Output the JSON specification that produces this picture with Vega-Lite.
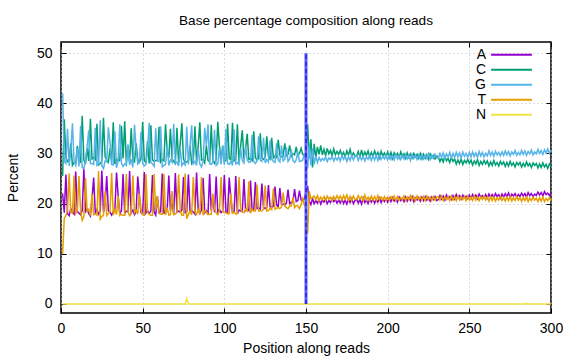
{
"$schema": "https://vega.github.io/schema/vega-lite/v6.json",
"width": 490, "height": 271,
"autosize": {"type": "none"},
"padding": {"left": 61, "top": 42, "right": 25, "bottom": 47},
"title": {"text": "Base percentage composition along reads", "fontSize": 13.6, "font": "Liberation Sans", "fontWeight": "normal", "offset": 14, "anchor": "middle", "color": "#000"},
"config": {"view": {"stroke": "#000", "strokeWidth": 1.5}, "font": "Liberation Sans"},
"resolve": {"axis": {"x": "independent", "y": "independent"}},
"datasets": {"reads": [
{"p":1,"A":22,"C":25.5,"G":42,"T":10,"N":0},
{"p":2,"A":18.2,"C":36.8,"G":28.4,"T":17.1,"N":0},
{"p":3,"A":25.8,"C":29.1,"G":28.0,"T":17.6,"N":0},
{"p":4,"A":18.0,"C":28.4,"G":34.9,"T":18.7,"N":0},
{"p":5,"A":17.6,"C":28.9,"G":27.5,"T":26.0,"N":0},
{"p":6,"A":19.0,"C":32.0,"G":30.5,"T":18.3,"N":0},
{"p":7,"A":18.3,"C":27.6,"G":36.0,"T":18.1,"N":0},
{"p":8,"A":17.9,"C":28.2,"G":28.3,"T":25.6,"N":0},
{"p":9,"A":26.4,"C":28.0,"G":27.6,"T":18.0,"N":0},
{"p":10,"A":18.5,"C":31.5,"G":31.0,"T":18.6,"N":0},
{"p":11,"A":18.1,"C":29.0,"G":27.4,"T":25.5,"N":0},
{"p":12,"A":17.8,"C":28.1,"G":35.5,"T":18.6,"N":0},
{"p":13,"A":18.6,"C":37.5,"G":27.2,"T":16.7,"N":0},
{"p":14,"A":26.9,"C":28.7,"G":27.0,"T":17.4,"N":0},
{"p":15,"A":18.4,"C":27.9,"G":28.6,"T":25.1,"N":0},
{"p":16,"A":18.9,"C":31.0,"G":31.4,"T":18.5,"N":0},
{"p":17,"A":18.0,"C":28.5,"G":34.6,"T":18.9,"N":0},
{"p":18,"A":17.5,"C":36.9,"G":28.0,"T":17.6,"N":0},
{"p":19,"A":21.0,"C":28.9,"G":28.0,"T":22.0,"N":0},
{"p":20,"A":25.2,"C":29.2,"G":27.8,"T":17.8,"N":0},
{"p":21,"A":18.2,"C":28.8,"G":35.1,"T":17.9,"N":0},
{"p":22,"A":18.8,"C":35.9,"G":27.6,"T":17.7,"N":0},
{"p":23,"A":17.9,"C":27.7,"G":27.9,"T":26.5,"N":0},
{"p":24,"A":18.5,"C":28.0,"G":36.6,"T":16.9,"N":0},
{"p":25,"A":26.6,"C":28.4,"G":27.5,"T":17.5,"N":0},
{"p":26,"A":18.3,"C":37.1,"G":27.0,"T":17.6,"N":0},
{"p":27,"A":20.0,"C":29.4,"G":28.5,"T":22.5,"N":0},
{"p":28,"A":25.5,"C":28.6,"G":28.3,"T":17.6,"N":0},
{"p":29,"A":18.6,"C":28.2,"G":35.2,"T":18.0,"N":0},
{"p":30,"A":18.3,"C":31.0,"G":32.2,"T":18.4,"N":0},
{"p":31,"A":17.7,"C":28.4,"G":27.8,"T":26.1,"N":0},
{"p":32,"A":18.4,"C":36.2,"G":27.7,"T":17.7,"N":0},
{"p":33,"A":18.9,"C":27.9,"G":34.4,"T":18.8,"N":0},
{"p":34,"A":26.2,"C":28.9,"G":27.1,"T":17.8,"N":0},
{"p":35,"A":21.5,"C":28.5,"G":28.6,"T":21.5,"N":0},
{"p":36,"A":17.9,"C":28.6,"G":35.8,"T":17.7,"N":0},
{"p":37,"A":18.6,"C":35.5,"G":28.1,"T":17.8,"N":0},
{"p":38,"A":25.9,"C":29.0,"G":27.4,"T":17.7,"N":0},
{"p":39,"A":18.0,"C":36.4,"G":27.9,"T":17.7,"N":0},
{"p":40,"A":18.5,"C":28.0,"G":27.6,"T":25.9,"N":0},
{"p":41,"A":18.4,"C":31.5,"G":31.8,"T":18.3,"N":0},
{"p":42,"A":26.5,"C":28.2,"G":27.7,"T":17.6,"N":0},
{"p":43,"A":18.1,"C":35.0,"G":28.8,"T":18.1,"N":0},
{"p":44,"A":18.7,"C":28.5,"G":27.2,"T":25.6,"N":0},
{"p":45,"A":17.8,"C":28.3,"G":35.7,"T":18.2,"N":0},
{"p":46,"A":18.4,"C":32.0,"G":30.8,"T":18.7,"N":0},
{"p":47,"A":25.4,"C":28.8,"G":27.9,"T":17.9,"N":0},
{"p":48,"A":21.5,"C":28.2,"G":28.4,"T":22.0,"N":0},
{"p":49,"A":18.2,"C":28.9,"G":34.3,"T":18.6,"N":0},
{"p":50,"A":17.9,"C":36.3,"G":28.0,"T":17.8,"N":0},
{"p":51,"A":26.3,"C":28.5,"G":27.5,"T":17.7,"N":0},
{"p":52,"A":18.1,"C":28.2,"G":27.8,"T":25.9,"N":0},
{"p":53,"A":18.6,"C":32.5,"G":30.6,"T":18.3,"N":0},
{"p":54,"A":18.0,"C":28.0,"G":36.1,"T":17.9,"N":0},
{"p":55,"A":18.5,"C":35.6,"G":28.2,"T":17.7,"N":0},
{"p":56,"A":25.7,"C":28.7,"G":27.9,"T":17.7,"N":0},
{"p":57,"A":18.3,"C":28.4,"G":27.4,"T":25.9,"N":0},
{"p":58,"A":17.7,"C":28.6,"G":35.0,"T":18.7,"N":0},
{"p":59,"A":21.5,"C":28.6,"G":28.5,"T":21.5,"N":0},
{"p":60,"A":18.2,"C":35.3,"G":28.4,"T":18.1,"N":0},
{"p":61,"A":18.4,"C":28.3,"G":35.4,"T":17.9,"N":0},
{"p":62,"A":26.0,"C":28.8,"G":27.3,"T":17.9,"N":0},
{"p":63,"A":18.0,"C":28.5,"G":27.6,"T":25.9,"N":0},
{"p":64,"A":18.7,"C":35.8,"G":27.8,"T":17.7,"N":0},
{"p":65,"A":18.6,"C":30.5,"G":31.6,"T":19.2,"N":0},
{"p":66,"A":25.6,"C":29.1,"G":27.6,"T":17.7,"N":0},
{"p":67,"A":18.6,"C":34.9,"G":28.7,"T":17.8,"N":0},
{"p":68,"A":20.5,"C":28.9,"G":28.2,"T":22.5,"N":0},
{"p":69,"A":17.9,"C":28.4,"G":35.9,"T":17.8,"N":0},
{"p":70,"A":26.1,"C":28.0,"G":28.0,"T":17.9,"N":0},
{"p":71,"A":18.3,"C":35.1,"G":28.3,"T":18.3,"N":0},
{"p":72,"A":18.5,"C":28.2,"G":27.5,"T":25.8,"N":0},
{"p":73,"A":18.3,"C":32.0,"G":31.0,"T":18.7,"N":0},
{"p":74,"A":18.7,"C":36.0,"G":27.6,"T":17.7,"N":0},
{"p":75,"A":25.3,"C":28.9,"G":28.1,"T":17.7,"N":0},
{"p":76,"A":18.2,"C":28.1,"G":27.7,"T":26.0,"N":0},
{"p":77,"A":18.4,"C":28.3,"G":35.3,"T":17.0,"N":1.1},
{"p":78,"A":25.8,"C":28.6,"G":27.8,"T":17.8,"N":0},
{"p":79,"A":18.4,"C":31.5,"G":31.6,"T":18.5,"N":0},
{"p":80,"A":18.6,"C":28.0,"G":35.6,"T":17.8,"N":0},
{"p":81,"A":18.3,"C":28.5,"G":27.9,"T":25.3,"N":0},
{"p":82,"A":17.9,"C":35.4,"G":28.4,"T":18.3,"N":0},
{"p":83,"A":26.2,"C":28.4,"G":27.6,"T":17.8,"N":0},
{"p":84,"A":18.7,"C":31.5,"G":31.0,"T":18.8,"N":0},
{"p":85,"A":18.0,"C":36.2,"G":27.9,"T":17.9,"N":0},
{"p":86,"A":18.7,"C":28.7,"G":27.3,"T":25.3,"N":0},
{"p":87,"A":25.1,"C":28.8,"G":28.4,"T":17.7,"N":0},
{"p":88,"A":18.2,"C":28.1,"G":35.1,"T":18.6,"N":0},
{"p":89,"A":18.6,"C":31.5,"G":31.5,"T":18.4,"N":0},
{"p":90,"A":17.8,"C":28.6,"G":35.8,"T":17.8,"N":0},
{"p":91,"A":25.9,"C":28.3,"G":27.9,"T":17.9,"N":0},
{"p":92,"A":18.6,"C":35.7,"G":27.8,"T":17.9,"N":0},
{"p":93,"A":21.5,"C":28.5,"G":28.3,"T":22.0,"N":0},
{"p":94,"A":18.3,"C":28.0,"G":34.7,"T":19.0,"N":0},
{"p":95,"A":25.4,"C":28.9,"G":27.6,"T":18.1,"N":0},
{"p":96,"A":18.0,"C":36.3,"G":27.9,"T":17.8,"N":0},
{"p":97,"A":18.8,"C":31.5,"G":31.0,"T":18.7,"N":0},
{"p":98,"A":18.2,"C":28.7,"G":27.8,"T":25.3,"N":0},
{"p":99,"A":18.5,"C":31.5,"G":31.6,"T":18.4,"N":0},
{"p":100,"A":25.7,"C":28.4,"G":27.7,"T":18.2,"N":0},
{"p":101,"A":18.3,"C":28.6,"G":34.9,"T":18.2,"N":0},
{"p":102,"A":18.1,"C":35.9,"G":28.0,"T":18.0,"N":0},
{"p":103,"A":25.2,"C":29.0,"G":27.8,"T":18.0,"N":0},
{"p":104,"A":21.0,"C":28.7,"G":28.4,"T":22.0,"N":0},
{"p":105,"A":18.2,"C":36.1,"G":27.6,"T":18.1,"N":0},
{"p":106,"A":18.4,"C":28.5,"G":34.8,"T":18.3,"N":0},
{"p":107,"A":25.5,"C":28.7,"G":27.9,"T":17.9,"N":0},
{"p":108,"A":18.0,"C":35.8,"G":28.2,"T":18.0,"N":0},
{"p":109,"A":18.7,"C":28.2,"G":27.8,"T":25.3,"N":0},
{"p":110,"A":18.5,"C":31.5,"G":31.0,"T":19.0,"N":0},
{"p":111,"A":18.5,"C":34.6,"G":28.6,"T":18.3,"N":0},
{"p":112,"A":24.9,"C":28.8,"G":28.1,"T":18.2,"N":0},
{"p":113,"A":18.6,"C":31.0,"G":31.5,"T":18.9,"N":0},
{"p":114,"A":18.9,"C":33.9,"G":28.7,"T":18.5,"N":0},
{"p":115,"A":18.6,"C":28.8,"G":28.2,"T":24.4,"N":0},
{"p":116,"A":24.6,"C":29.0,"G":28.3,"T":18.1,"N":0},
{"p":117,"A":18.8,"C":28.6,"G":33.7,"T":18.9,"N":0},
{"p":118,"A":18.7,"C":34.4,"G":28.4,"T":18.5,"N":0},
{"p":119,"A":24.3,"C":29.2,"G":28.0,"T":18.5,"N":0},
{"p":120,"A":19.0,"C":28.7,"G":28.5,"T":23.8,"N":0},
{"p":121,"A":19.1,"C":29.0,"G":33.4,"T":18.5,"N":0},
{"p":122,"A":18.9,"C":34.0,"G":28.6,"T":18.5,"N":0},
{"p":123,"A":24.0,"C":29.1,"G":28.4,"T":18.5,"N":0},
{"p":124,"A":19.2,"C":28.8,"G":33.1,"T":18.9,"N":0},
{"p":125,"A":19.0,"C":29.3,"G":28.1,"T":23.6,"N":0},
{"p":126,"A":19.3,"C":33.4,"G":28.8,"T":18.5,"N":0},
{"p":127,"A":23.7,"C":29.4,"G":28.3,"T":18.6,"N":0},
{"p":128,"A":19.4,"C":28.9,"G":32.6,"T":19.1,"N":0},
{"p":129,"A":19.2,"C":33.1,"G":28.9,"T":18.8,"N":0},
{"p":130,"A":19.5,"C":29.1,"G":28.4,"T":23.0,"N":0},
{"p":131,"A":23.4,"C":29.5,"G":28.2,"T":18.9,"N":0},
{"p":132,"A":19.7,"C":29.2,"G":32.0,"T":19.1,"N":0},
{"p":133,"A":19.4,"C":32.7,"G":28.7,"T":19.2,"N":0},
{"p":134,"A":23.1,"C":29.6,"G":28.3,"T":19.0,"N":0},
{"p":135,"A":19.8,"C":29.3,"G":31.6,"T":19.3,"N":0},
{"p":136,"A":19.9,"C":29.4,"G":28.5,"T":22.2,"N":0},
{"p":137,"A":19.7,"C":32.0,"G":28.8,"T":19.5,"N":0},
{"p":138,"A":20.1,"C":29.5,"G":31.2,"T":19.2,"N":0},
{"p":139,"A":22.8,"C":29.8,"G":28.4,"T":19.0,"N":0},
{"p":140,"A":20.0,"C":31.6,"G":28.9,"T":19.5,"N":0},
{"p":141,"A":20.3,"C":29.4,"G":30.8,"T":19.5,"N":0},
{"p":142,"A":20.2,"C":29.9,"G":28.6,"T":21.3,"N":0},
{"p":143,"A":22.9,"C":29.7,"G":28.2,"T":19.2,"N":0},
{"p":144,"A":20.4,"C":31.3,"G":28.7,"T":19.6,"N":0},
{"p":145,"A":20.6,"C":29.6,"G":30.3,"T":19.5,"N":0},
{"p":146,"A":22.6,"C":30.0,"G":28.4,"T":19.0,"N":0},
{"p":147,"A":20.7,"C":31.0,"G":28.5,"T":19.8,"N":0},
{"p":148,"A":20.5,"C":29.8,"G":28.7,"T":21.0,"N":0},
{"p":149,"A":21.0,"C":29.5,"G":29.8,"T":19.7,"N":0},
{"p":150,"A":22.3,"C":30.2,"G":28.3,"T":19.2,"N":0},
{"p":151,"A":23.5,"C":35.8,"G":27.0,"T":14.0,"N":0},
{"p":152,"A":20.5,"C":29.0,"G":31.5,"T":22.5,"N":0},
{"p":153,"A":19.8,"C":32.8,"G":27.6,"T":21.0,"N":0},
{"p":154,"A":21.0,"C":27.2,"G":31.0,"T":21.2,"N":0},
{"p":155,"A":20.0,"C":31.9,"G":27.8,"T":21.5,"N":0},
{"p":156,"A":20.6,"C":29.2,"G":29.5,"T":20.8,"N":0},
{"p":157,"A":20.1,"C":31.3,"G":28.2,"T":21.6,"N":0},
{"p":158,"A":20.8,"C":29.8,"G":29.2,"T":20.5,"N":0},
{"p":159,"A":19.9,"C":31.6,"G":28.5,"T":21.3,"N":0},
{"p":160,"A":20.7,"C":29.7,"G":29.0,"T":20.8,"N":0},
{"p":161,"A":20.3,"C":30.8,"G":28.6,"T":21.4,"N":0},
{"p":162,"A":20.9,"C":29.5,"G":29.3,"T":20.6,"N":0},
{"p":163,"A":20.0,"C":31.0,"G":28.4,"T":21.5,"N":0},
{"p":164,"A":20.6,"C":29.9,"G":29.1,"T":20.9,"N":0},
{"p":165,"A":20.2,"C":30.6,"G":28.8,"T":21.3,"N":0},
{"p":166,"A":21.0,"C":29.6,"G":29.4,"T":20.6,"N":0},
{"p":167,"A":20.4,"C":30.9,"G":28.5,"T":21.4,"N":0},
{"p":168,"A":20.8,"C":29.7,"G":29.2,"T":20.8,"N":0},
{"p":169,"A":20.1,"C":30.4,"G":28.7,"T":21.6,"N":0},
{"p":170,"A":20.7,"C":29.8,"G":29.3,"T":20.9,"N":0},
{"p":171,"A":20.1,"C":30.6,"G":28.5,"T":21.5,"N":0},
{"p":172,"A":20.9,"C":29.6,"G":29.6,"T":20.7,"N":0},
{"p":173,"A":20.0,"C":30.2,"G":28.8,"T":21.6,"N":0},
{"p":174,"A":20.7,"C":29.3,"G":29.5,"T":20.9,"N":0},
{"p":175,"A":19.9,"C":30.5,"G":28.4,"T":21.7,"N":0},
{"p":176,"A":20.8,"C":29.7,"G":29.3,"T":20.6,"N":0},
{"p":177,"A":20.2,"C":30.8,"G":28.6,"T":21.4,"N":0},
{"p":178,"A":21.0,"C":29.5,"G":29.7,"T":20.6,"N":0},
{"p":179,"A":20.0,"C":30.1,"G":28.7,"T":21.5,"N":0},
{"p":180,"A":20.6,"C":29.4,"G":29.4,"T":20.8,"N":0},
{"p":181,"A":20.9,"C":29.5,"G":29.6,"T":20.8,"N":0},
{"p":182,"A":20.1,"C":30.4,"G":28.6,"T":21.6,"N":0},
{"p":183,"A":20.8,"C":29.2,"G":29.5,"T":20.9,"N":0},
{"p":184,"A":19.9,"C":30.7,"G":28.7,"T":21.4,"N":0},
{"p":185,"A":21.1,"C":29.4,"G":29.4,"T":20.6,"N":0},
{"p":186,"A":20.2,"C":30.3,"G":28.5,"T":21.7,"N":0},
{"p":187,"A":20.7,"C":29.6,"G":29.3,"T":20.7,"N":0},
{"p":188,"A":20.0,"C":30.5,"G":28.8,"T":21.3,"N":0},
{"p":189,"A":20.9,"C":29.3,"G":29.7,"T":20.6,"N":0},
{"p":190,"A":20.3,"C":30.2,"G":28.6,"T":21.5,"N":0},
{"p":191,"A":20.9,"C":29.4,"G":29.5,"T":20.7,"N":0},
{"p":192,"A":20.1,"C":30.5,"G":28.7,"T":21.4,"N":0},
{"p":193,"A":20.8,"C":29.6,"G":29.6,"T":20.6,"N":0},
{"p":194,"A":20.3,"C":30.2,"G":28.6,"T":21.6,"N":0},
{"p":195,"A":21.1,"C":29.1,"G":29.8,"T":20.8,"N":0},
{"p":196,"A":20.2,"C":30.4,"G":28.8,"T":21.3,"N":0},
{"p":197,"A":20.9,"C":29.5,"G":29.4,"T":20.7,"N":0},
{"p":198,"A":20.4,"C":30.1,"G":28.9,"T":21.4,"N":0},
{"p":199,"A":21.0,"C":29.3,"G":29.6,"T":20.6,"N":0},
{"p":200,"A":20.3,"C":30.3,"G":28.7,"T":21.3,"N":0},
{"p":201,"A":21.1,"C":29.2,"G":29.7,"T":20.7,"N":0},
{"p":202,"A":20.4,"C":30.2,"G":28.8,"T":21.4,"N":0},
{"p":203,"A":21.2,"C":29.0,"G":29.6,"T":20.8,"N":0},
{"p":204,"A":20.5,"C":30.1,"G":28.7,"T":21.5,"N":0},
{"p":205,"A":20.9,"C":29.4,"G":29.8,"T":20.6,"N":0},
{"p":206,"A":20.3,"C":30.0,"G":28.9,"T":21.4,"N":0},
{"p":207,"A":21.3,"C":29.1,"G":29.5,"T":20.7,"N":0},
{"p":208,"A":20.6,"C":30.3,"G":28.8,"T":21.2,"N":0},
{"p":209,"A":21.0,"C":29.3,"G":29.7,"T":20.8,"N":0},
{"p":210,"A":20.4,"C":29.9,"G":28.9,"T":21.5,"N":0},
{"p":211,"A":21.3,"C":29.0,"G":29.8,"T":20.6,"N":0},
{"p":212,"A":20.5,"C":30.1,"G":28.9,"T":21.3,"N":0},
{"p":213,"A":21.2,"C":29.2,"G":29.5,"T":20.8,"N":0},
{"p":214,"A":20.6,"C":29.9,"G":28.6,"T":21.6,"N":0},
{"p":215,"A":21.4,"C":29.1,"G":29.8,"T":20.7,"N":0},
{"p":216,"A":20.4,"C":30.0,"G":29.0,"T":21.4,"N":0},
{"p":217,"A":21.1,"C":29.3,"G":29.6,"T":20.6,"N":0},
{"p":218,"A":20.7,"C":29.8,"G":28.8,"T":21.5,"N":0},
{"p":219,"A":21.2,"C":29.0,"G":29.7,"T":20.8,"N":0},
{"p":220,"A":20.5,"C":30.0,"G":28.9,"T":21.3,"N":0},
{"p":221,"A":21.3,"C":28.9,"G":29.8,"T":20.7,"N":0},
{"p":222,"A":20.6,"C":29.8,"G":28.9,"T":21.4,"N":0},
{"p":223,"A":21.4,"C":29.0,"G":29.6,"T":20.6,"N":0},
{"p":224,"A":20.7,"C":29.7,"G":29.0,"T":21.5,"N":0},
{"p":225,"A":21.2,"C":28.8,"G":29.9,"T":20.8,"N":0},
{"p":226,"A":20.5,"C":29.9,"G":28.8,"T":21.3,"N":0},
{"p":227,"A":21.3,"C":29.1,"G":29.7,"T":20.6,"N":0},
{"p":228,"A":20.8,"C":29.6,"G":29.0,"T":21.4,"N":0},
{"p":229,"A":21.4,"C":28.9,"G":29.8,"T":20.7,"N":0},
{"p":230,"A":20.6,"C":29.5,"G":29.1,"T":21.3,"N":0},
{"p":231,"A":20.8,"C":29.3,"G":29.1,"T":21.4,"N":0},
{"p":232,"A":21.6,"C":28.4,"G":30.0,"T":20.7,"N":0},
{"p":233,"A":20.9,"C":29.1,"G":29.2,"T":21.5,"N":0},
{"p":234,"A":21.5,"C":28.3,"G":30.1,"T":20.6,"N":0},
{"p":235,"A":20.7,"C":29.4,"G":29.0,"T":21.3,"N":0},
{"p":236,"A":21.7,"C":28.5,"G":29.9,"T":20.8,"N":0},
{"p":237,"A":21.0,"C":29.0,"G":29.3,"T":21.4,"N":0},
{"p":238,"A":21.4,"C":28.2,"G":30.2,"T":20.6,"N":0},
{"p":239,"A":20.8,"C":29.2,"G":29.1,"T":21.5,"N":0},
{"p":240,"A":21.6,"C":28.4,"G":30.0,"T":20.7,"N":0},
{"p":241,"A":20.9,"C":28.9,"G":29.2,"T":21.4,"N":0},
{"p":242,"A":21.8,"C":27.9,"G":30.2,"T":20.6,"N":0},
{"p":243,"A":21.1,"C":28.7,"G":29.3,"T":21.5,"N":0},
{"p":244,"A":21.6,"C":28.0,"G":30.1,"T":20.7,"N":0},
{"p":245,"A":20.9,"C":28.9,"G":29.1,"T":21.3,"N":0},
{"p":246,"A":21.7,"C":27.8,"G":30.3,"T":20.8,"N":0},
{"p":247,"A":21.2,"C":28.6,"G":29.4,"T":21.4,"N":0},
{"p":248,"A":21.5,"C":28.1,"G":30.0,"T":20.6,"N":0},
{"p":249,"A":21.0,"C":28.8,"G":29.2,"T":21.5,"N":0},
{"p":250,"A":21.7,"C":28.0,"G":30.2,"T":20.7,"N":0},
{"p":251,"A":21.0,"C":28.7,"G":29.3,"T":21.3,"N":0},
{"p":252,"A":21.8,"C":27.7,"G":30.3,"T":20.6,"N":0},
{"p":253,"A":21.2,"C":28.5,"G":29.4,"T":21.5,"N":0},
{"p":254,"A":21.7,"C":27.9,"G":30.1,"T":20.7,"N":0},
{"p":255,"A":21.0,"C":28.8,"G":29.2,"T":21.4,"N":0},
{"p":256,"A":21.9,"C":27.6,"G":30.4,"T":20.6,"N":0},
{"p":257,"A":21.3,"C":28.4,"G":29.5,"T":21.3,"N":0},
{"p":258,"A":21.6,"C":27.8,"G":30.2,"T":20.8,"N":0},
{"p":259,"A":21.1,"C":28.6,"G":29.3,"T":21.5,"N":0},
{"p":260,"A":21.8,"C":27.9,"G":30.0,"T":20.7,"N":0},
{"p":261,"A":21.1,"C":28.5,"G":29.5,"T":21.3,"N":0},
{"p":262,"A":21.9,"C":27.5,"G":30.5,"T":20.5,"N":0},
{"p":263,"A":21.3,"C":28.3,"G":29.6,"T":21.4,"N":0},
{"p":264,"A":21.8,"C":27.6,"G":30.3,"T":20.6,"N":0},
{"p":265,"A":21.2,"C":28.6,"G":29.4,"T":21.3,"N":0},
{"p":266,"A":22.0,"C":27.7,"G":30.4,"T":20.5,"N":0},
{"p":267,"A":21.4,"C":28.2,"G":29.7,"T":21.2,"N":0},
{"p":268,"A":21.8,"C":27.5,"G":30.2,"T":20.7,"N":0},
{"p":269,"A":21.1,"C":28.4,"G":29.5,"T":21.4,"N":0},
{"p":270,"A":21.9,"C":27.8,"G":30.3,"T":20.6,"N":0},
{"p":271,"A":21.3,"C":28.3,"G":29.6,"T":21.2,"N":0},
{"p":272,"A":22.0,"C":27.4,"G":30.5,"T":20.5,"N":0},
{"p":273,"A":21.4,"C":28.2,"G":29.7,"T":21.3,"N":0},
{"p":274,"A":22.1,"C":27.5,"G":30.4,"T":20.6,"N":0},
{"p":275,"A":21.2,"C":28.4,"G":29.5,"T":21.4,"N":0},
{"p":276,"A":21.9,"C":27.6,"G":30.3,"T":20.5,"N":0},
{"p":277,"A":21.5,"C":28.1,"G":29.8,"T":21.2,"N":0},
{"p":278,"A":22.0,"C":27.3,"G":30.6,"T":20.6,"N":0},
{"p":279,"A":21.3,"C":28.2,"G":29.6,"T":21.4,"N":0},
{"p":280,"A":21.8,"C":27.7,"G":30.2,"T":20.7,"N":0},
{"p":281,"A":21.4,"C":28.2,"G":29.7,"T":21.2,"N":0},
{"p":282,"A":22.1,"C":27.3,"G":30.6,"T":20.4,"N":0},
{"p":283,"A":21.5,"C":28.0,"G":29.8,"T":21.2,"N":0},
{"p":284,"A":22.0,"C":27.4,"G":30.5,"T":20.6,"N":0},
{"p":285,"A":21.3,"C":28.3,"G":29.6,"T":21.3,"N":0.15},
{"p":286,"A":22.2,"C":27.5,"G":30.4,"T":20.4,"N":0},
{"p":287,"A":21.6,"C":28.0,"G":29.9,"T":21.1,"N":0},
{"p":288,"A":22.0,"C":27.2,"G":30.7,"T":20.6,"N":0},
{"p":289,"A":21.4,"C":28.1,"G":29.7,"T":21.3,"N":0},
{"p":290,"A":21.9,"C":27.6,"G":30.3,"T":20.7,"N":0},
{"p":291,"A":21.6,"C":28.0,"G":29.9,"T":21.1,"N":0},
{"p":292,"A":22.3,"C":27.1,"G":30.8,"T":20.4,"N":0},
{"p":293,"A":21.7,"C":27.9,"G":30.0,"T":21.2,"N":0},
{"p":294,"A":22.2,"C":27.2,"G":30.6,"T":20.5,"N":0},
{"p":295,"A":21.5,"C":28.1,"G":29.8,"T":21.3,"N":0},
{"p":296,"A":22.4,"C":27.3,"G":30.7,"T":20.4,"N":0},
{"p":297,"A":21.8,"C":27.8,"G":30.1,"T":21.0,"N":0},
{"p":298,"A":22.1,"C":27.0,"G":30.9,"T":20.6,"N":0},
{"p":299,"A":21.6,"C":27.9,"G":30.0,"T":21.2,"N":0},
{"p":300,"A":22.2,"C":27.4,"G":30.6,"T":20.5,"N":0}
]},
"layer": [
{
 "data": {"name": "reads"},
 "transform": [{"fold": ["A", "C", "G", "T", "N"], "as": ["base", "pct"]}],
 "mark": {"type": "line", "strokeWidth": 1.5, "interpolate": "linear"},
 "encoding": {
  "x": {"field": "p", "type": "quantitative", "scale": {"domain": [0, 300], "nice": false, "zero": false},
   "axis": {"orient": "bottom", "values": [0, 50, 100, 150, 200, 250, 300], "title": "Position along reads", "grid": true, "gridDash": [1, 3], "gridColor": "#b8b8b8", "gridWidth": 1, "domain": false, "tickSize": -5, "tickColor": "#000", "labelPadding": 13, "labelFlush": false, "labelFontSize": 14, "labelColor": "#000", "labelFont": "Liberation Sans", "titleFontSize": 14, "titleFontWeight": "normal", "titleColor": "#000", "titleFont": "Liberation Sans", "titlePadding": 6}},
  "y": {"field": "pct", "type": "quantitative", "scale": {"domain": [-1.8, 52.2], "nice": false, "zero": false},
   "axis": {"orient": "left", "values": [0, 10, 20, 30, 40, 50], "title": "Percent", "grid": true, "gridDash": [1, 3], "gridColor": "#b8b8b8", "gridWidth": 1, "domain": false, "tickSize": -5, "tickColor": "#000", "labelPadding": 14, "labelFlush": false, "labelFontSize": 14, "labelColor": "#000", "labelFont": "Liberation Sans", "titleFontSize": 14, "titleFontWeight": "normal", "titleColor": "#000", "titleFont": "Liberation Sans", "titlePadding": 16}},
  "color": {"field": "base", "type": "nominal",
   "scale": {"domain": ["A", "C", "G", "T", "N"], "range": ["#9400d3", "#009e73", "#56b4e9", "#e69f00", "#f0e442"]},
   "legend": {"orient": "none", "legendX": 442.5, "legendY": 4.7, "title": null, "symbolType": "M-3,0H3", "symbolSize": 185, "symbolStrokeWidth": 2, "symbolFillColor": "transparent", "labelAlign": "right", "labelOffset": -33.5, "labelFontSize": 14, "labelFont": "Liberation Sans", "labelColor": "#000", "rowPadding": -1, "padding": 0}}
 }
},
{
 "data": {"values": [{}]},
 "mark": {"type": "rule", "color": "#5c5cff", "strokeWidth": 3},
 "encoding": {
  "x": {"datum": 150, "type": "quantitative", "scale": {"domain": [0, 300], "nice": false, "zero": false},
   "axis": {"orient": "top", "values": [0, 50, 100, 150, 200, 250, 300], "title": null, "labels": false, "grid": false, "domain": false, "tickSize": -5, "tickColor": "#000"}},
  "y": {"datum": 0, "type": "quantitative", "scale": {"domain": [-1.8, 52.2], "nice": false, "zero": false},
   "axis": {"orient": "right", "values": [0, 10, 20, 30, 40, 50], "title": null, "labels": false, "grid": false, "domain": false, "tickSize": -5, "tickColor": "#000"}},
  "y2": {"datum": 50}
 }
},
{
 "data": {"values": [{}]},
 "mark": {"type": "rule", "color": "#0000c8", "strokeWidth": 1, "strokeDash": [4, 3]},
 "encoding": {
  "x": {"datum": 150, "type": "quantitative", "axis": null},
  "y": {"datum": 0, "type": "quantitative", "axis": null},
  "y2": {"datum": 50}
 }
}
]
}
